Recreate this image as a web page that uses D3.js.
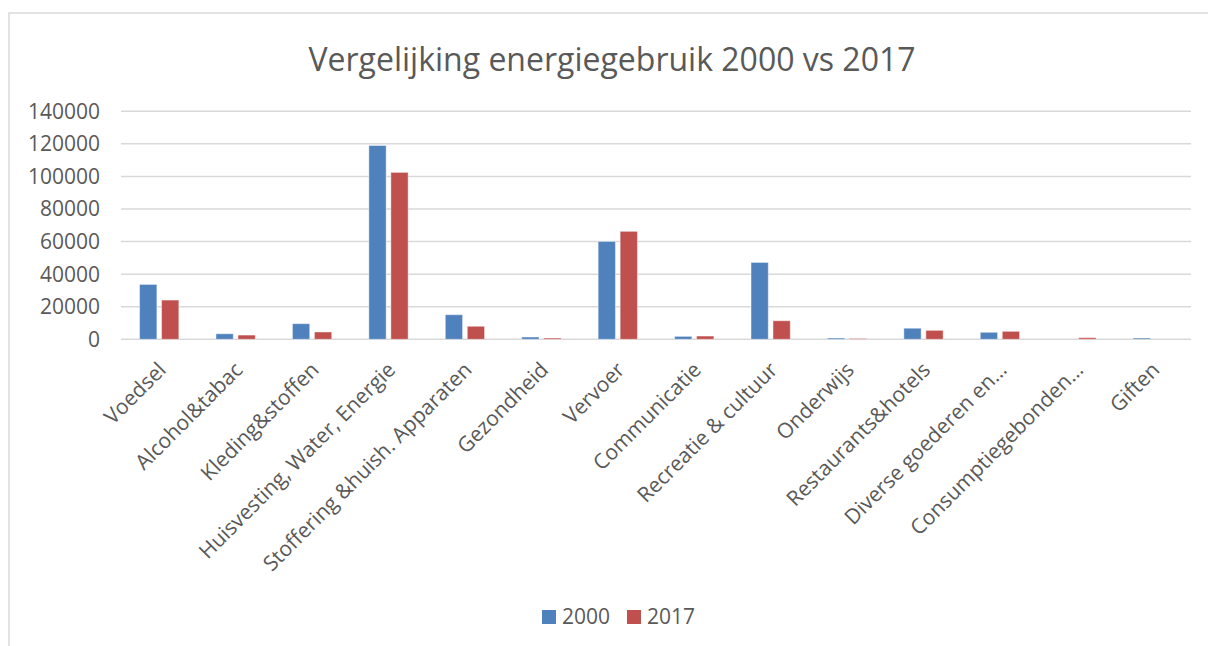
<!DOCTYPE html>
<html>
<head>
<meta charset="utf-8">
<script src="https://cdn.jsdelivr.net/npm/d3@7"></script>
<style>
  body { margin: 0; background: #fff; }
  svg { display: block; }
  text { font-family: "Open Sans", sans-serif; fill: #595959; }
</style>
</head>
<body>
<svg width="1208" height="646"></svg>
<script>
// data
var categories = ["Voedsel", "Alcohol&tabac", "Kleding&stoffen", "Huisvesting, Water, Energie",
  "Stoffering &huish. Apparaten", "Gezondheid", "Vervoer", "Communicatie", "Recreatie & cultuur",
  "Onderwijs", "Restaurants&hotels", "Diverse goederen en…", "Consumptiegebonden…", "Giften"];
var series = ["2000", "2017"];
var values2000 = [33700, 3400, 9600, 119000, 15100, 1400, 60100, 1800, 47200, 800, 6800, 4300, 0, 800];
var values2017 = [24100, 2600, 4500, 102500, 8000, 800, 66300, 2000, 11400, 500, 5500, 4900, 1000, 0];
var yTicks = [0, 20000, 40000, 60000, 80000, 100000, 120000, 140000];
var colors = {"2000": "#4f81bd", "2017": "#c0504d"};

var svg = d3.select("svg"),
    plot = {left: 121, right: 1191, top: 111.3, bottom: 339.3};

// chart frame (runs off the right and bottom edge)
svg.append("rect")
    .attr("x", 9).attr("y", 13)
    .attr("width", 1220).attr("height", 660)
    .attr("fill", "#fff")
    .attr("stroke", "#d9d9d9")
    .attr("stroke-width", 1.5);

svg.append("text")
    .attr("x", 612)
    .attr("y", 71)
    .attr("text-anchor", "middle")
    .style("font-size", "32px")
    .text("Vergelijking energiegebruik 2000 vs 2017");

var x0 = d3.scaleBand().domain(categories).range([plot.left, plot.right])
      .paddingInner(0.486).paddingOuter(0.243),
    x1 = d3.scaleBand().domain(series).range([0, x0.bandwidth()]).paddingInner(0.2136),
    y = d3.scaleLinear().domain([0, 140000]).range([plot.bottom, plot.top]);

// gridlines
svg.append("g")
  .selectAll("line")
  .data(yTicks)
  .enter().append("line")
    .attr("x1", plot.left)
    .attr("x2", plot.right)
    .attr("y1", function(d) { return y(d); })
    .attr("y2", function(d) { return y(d); })
    .attr("stroke", "#d9d9d9")
    .attr("stroke-width", 1.5);

// y labels
svg.append("g")
  .selectAll("text")
  .data(yTicks)
  .enter().append("text")
    .attr("x", plot.left - 21)
    .attr("y", function(d) { return y(d); })
    .attr("dy", "0.35em")
    .attr("text-anchor", "end")
    .style("font-size", "21px")
    .text(function(d) { return d; });

var rows = categories.map(function(c, i) {
  return {cat: c, vals: [{s: "2000", v: values2000[i]}, {s: "2017", v: values2017[i]}]};
});

var group = svg.append("g")
  .selectAll("g")
  .data(rows)
  .enter().append("g")
    .attr("transform", function(d) { return "translate(" + x0(d.cat) + ",0)"; });

group.selectAll("rect")
  .data(function(d) { return d.vals.filter(function(e) { return e.v > 0; }); })
  .enter().append("rect")
    .attr("x", function(d) { return x1(d.s); })
    .attr("y", function(d) { return y(d.v); })
    .attr("width", x1.bandwidth())
    .attr("height", function(d) { return y(0) - y(d.v); })
    .attr("fill", function(d) { return colors[d.s]; })
    .attr("stroke", "rgba(255,255,255,0.45)")
    .attr("stroke-width", 1);

// category labels, rotated
svg.append("g")
  .selectAll("text")
  .data(categories)
  .enter().append("text")
    .attr("transform", function(d) {
      return "translate(" + (x0(d) + x0.bandwidth() / 2 - 3) + "," + 360 + ") rotate(-45)";
    })
    .attr("text-anchor", "end")
    .attr("dy", "0.75em")
    .style("font-size", "21px")
    .text(function(d) { return d; });

// legend
var legend = svg.append("g")
  .selectAll("g")
  .data(series)
  .enter().append("g")
    .attr("transform", function(d, i) { return "translate(" + (542 + i * 85) + ",610)"; });

legend.append("rect")
    .attr("width", 14).attr("height", 14)
    .attr("fill", function(d) { return colors[d]; });

legend.append("text")
    .attr("x", 20)
    .attr("y", 7)
    .attr("dy", "0.35em")
    .style("font-size", "21px")
    .text(function(d) { return d; });
</script>
</body>
</html>
